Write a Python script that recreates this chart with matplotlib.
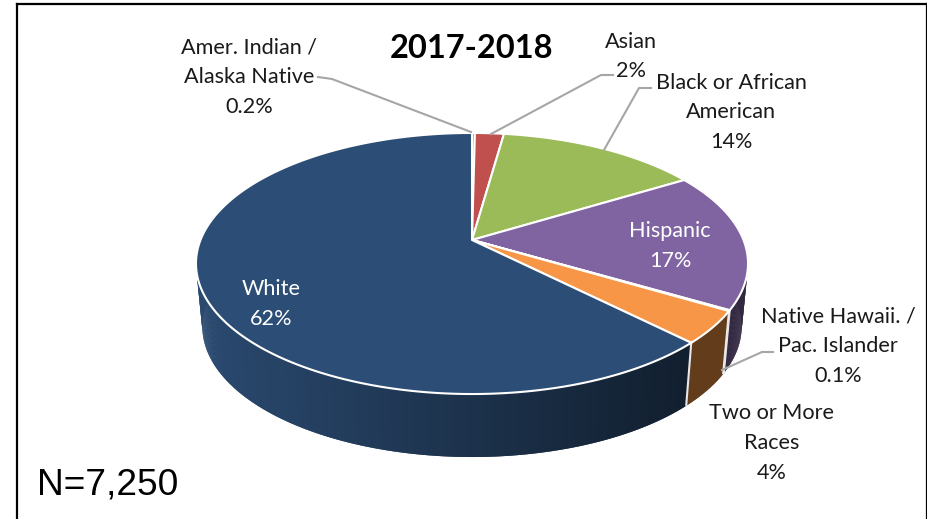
import numpy as np
import matplotlib
matplotlib.use("Agg")
import matplotlib.pyplot as plt

categories = ["Amer. Indian /\nAlaska Native", "Asian", "Black or African\nAmerican", "Hispanic",
              "Native Hawaii. /\nPac. Islander", "Two or More\nRaces", "White"]
pct_labels = ["0.2%", "2%", "14%", "17%", "0.1%", "4%", "62%"]
values = [0.2, 2, 14, 17, 0.1, 4, 62]
colors = ["#4f81bd", "#c0504d", "#9bbb59", "#8064a2", "#4bacc6", "#f79646", "#2c4d75"]
label_xy = [(249, 77), (631, 56.5), (731, 112.5), (670, 246), (838, 346.5), (772, 443), (271, 304)]
label_col = ["#1a1a1a", "#1a1a1a", "#1a1a1a", "white", "#1a1a1a", "#1a1a1a", "white"]
leaders = {0: [(318, 77), (332, 79), (471, 132)],
           1: [(613, 75), (601, 75), (491, 134)],
           2: [(651, 88), (639, 88), (604, 150)],
           4: [(773, 352), (762, 352), (722, 370)]}

CX, CY, A, B, K, DEPTH, TAPER = 472, 240, 271.5, 126.3, 0.18, 63, 0.977

def project(theta):
    u, v = np.sin(theta), np.cos(theta)
    d = 1 + K * v
    return CX + A * u / d, CY - B * v / d

def drop(x, y):
    return CX + (x - CX) * TAPER, y + DEPTH

def shade(x):
    return np.interp(x, [200, 690], [0.95, 0.40])

fig = plt.figure(figsize=(9.28, 5.19), dpi=100)
ax = fig.add_axes([0, 0, 1, 1])
ax.set_xlim(0, 928); ax.set_ylim(519, 0); ax.axis("off")

frac = np.cumsum([0] + values) / sum(values) * 2 * np.pi
rgb = [np.array(matplotlib.colors.to_rgb(c)) for c in colors]

# side walls: overlapping strips so no seams show
for i in range(len(values)):
    n = max(2, int((frac[i + 1] - frac[i]) * 150))
    th = np.linspace(frac[i], frac[i + 1], n + 1)
    x, y = project(th)
    bx, by = drop(x, y)
    for j in range(n):
        k = min(j + 2, n)
        c = rgb[i] * shade((x[j] + x[j + 1]) / 2)
        ax.fill([x[j], x[k], bx[k], bx[j]], [y[j], y[k], by[k], by[j]],
                color=c, lw=0, zorder=2 + j * 1e-5 * (1 if x[k] > x[j] else -1))
# wall dividers on front
for t in frac[1:-1]:
    x, y = project(t)
    if np.cos(t) < 0.1 and np.sin(t) > 0:
        bx, by = drop(x, y)
        ax.plot([x, bx], [y, by], color="#e8e8e8", lw=1.5, zorder=3, solid_capstyle="butt")

# top faces
for i in range(len(values)):
    th = np.linspace(frac[i], frac[i + 1], max(3, int((frac[i + 1] - frac[i]) * 100)))
    x, y = project(th)
    ax.fill(np.r_[CX, x], np.r_[CY, y], facecolor=colors[i], edgecolor="white", lw=1.5,
            joinstyle="round", zorder=4)

# leaders
for pts in leaders.values():
    xs, ys = zip(*pts)
    ax.plot(xs, ys, color="#a6a6a6", lw=1.5, zorder=5)

# labels
for i, name in enumerate(categories):
    ax.text(*label_xy[i], f"{name}\n{pct_labels[i]}", ha="center", va="center",
            family="Lato", fontsize=15.6, color=label_col[i], linespacing=1.62, zorder=6)

ax.text(472, 48, "2017-2018", ha="center", va="center", family="Lato", weight="bold",
        fontsize=23.5, color="black", zorder=6)
ax.text(37, 485, "N=7,250", ha="left", va="center", family="Liberation Sans", fontsize=26.7,
        color="black", zorder=6)

# frame
ax.plot([17, 17], [519, 4], color="black", lw=1.6, solid_capstyle="projecting", zorder=7)
ax.plot([17, 927], [4, 4], color="black", lw=1.6, solid_capstyle="projecting", zorder=7)
ax.plot([927, 927], [4, 519], color="black", lw=1.6, solid_capstyle="projecting", zorder=7)

fig.savefig("out.png", dpi=100)
